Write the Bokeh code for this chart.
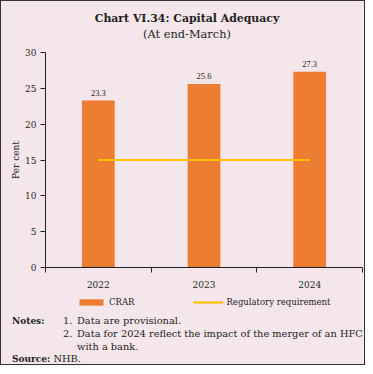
from bokeh.plotting import figure
from bokeh.models import (ColumnDataSource, LabelSet, FixedTicker, Legend,
                          LegendItem, Range1d, Div)
from bokeh.layouts import column
from bokeh.embed import file_html
from bokeh.resources import INLINE

# ---- data ----
years = ["2022", "2023", "2024"]
crar = [23.3, 25.6, 27.3]
regulatory = [15, 15, 15]
y_ticks = [0, 5, 10, 15, 20, 25, 30]
series_names = ["CRAR", "Regulatory requirement"]

title_text = "Chart VI.34: Capital Adequacy"
subtitle_text = "(At end-March)"
y_label = "Per cent"
note_lines = ["Data are provisional.",
              "Data for 2024 reflect the impact of the merger of an HFC",
              "with a bank."]
source_text = "NHB."

# ---- style ----
BG = "#F4E6EB"
BAR = "#ED7D31"
LINE = "#FFC000"
TXT = "#231F20"
FONT = "DejaVu Serif"

W = 363
TITLE_H, FIG_H, LEG_H, NOTES_H = 43, 247, 23, 50

xpos = [i + 0.5 for i in range(len(years))]
src = ColumnDataSource(dict(x=xpos, crar=crar, reg=regulatory,
                            lbl=[f"{v:.1f}" for v in crar]))

p = figure(width=W, height=FIG_H, output_backend="svg", toolbar_location=None,
           x_range=Range1d(0, len(years)), y_range=Range1d(0, 30),
           min_border_left=44, min_border_right=2, min_border_top=8,
           min_border_bottom=24, background_fill_color=BG, border_fill_color=BG,
           outline_line_color=None)

bars = p.vbar(x="x", top="crar", width=0.31, source=src, fill_color=BAR,
              line_color=None)
reg = p.line(x="x", y="reg", source=src, line_color=LINE, line_width=2.2)

p.add_layout(LabelSet(x="x", y="crar", text="lbl", source=src, y_offset=5,
                      text_align="center", text_baseline="bottom",
                      text_font=FONT, text_font_size="8.5px", text_color=TXT))

p.grid.visible = False

xa = p.xaxis[0]
xa.ticker = FixedTicker(ticks=xpos, minor_ticks=list(range(len(years) + 1)))
xa.major_label_overrides = {x: y for x, y in zip(xpos, years)}
xa.major_tick_line_color = None
xa.major_tick_out = 0
xa.major_tick_in = 0
xa.minor_tick_line_color = TXT
xa.minor_tick_out = 5
xa.minor_tick_in = 0
xa.major_label_standoff = 8

ya = p.yaxis[0]
ya.ticker = FixedTicker(ticks=y_ticks)
ya.minor_tick_line_color = None
ya.major_tick_line_color = TXT
ya.major_tick_out = 5
ya.major_tick_in = 0
ya.major_label_standoff = 4
ya.axis_label = y_label
ya.axis_label_text_font = FONT
ya.axis_label_text_font_size = "9px"
ya.axis_label_text_font_style = "normal"
ya.axis_label_text_color = TXT
ya.axis_label_standoff = 1

for ax in (xa, ya):
    ax.axis_line_color = TXT
    ax.major_label_text_font = FONT
    ax.major_label_text_font_size = "9px"
    ax.major_label_text_color = TXT

# ---- legend strip (own small figure; glyphs off-range, only the legend shows) ----
lf = figure(width=W, height=LEG_H, output_backend="svg", toolbar_location=None,
            x_axis_location=None, y_axis_location=None,
            x_range=Range1d(100, 101), y_range=Range1d(100, 101), min_border=0,
            background_fill_color=BG, border_fill_color=BG, outline_line_color=None)
lf.grid.visible = False
lsrc = ColumnDataSource(dict(x=xpos, crar=crar, reg=regulatory))
lbar = lf.vbar(x="x", top="crar", width=0.31, source=lsrc, fill_color=BAR,
               line_color=None)
lline = lf.line(x="x", y="reg", source=lsrc, line_color=LINE, line_width=2.2)
legend = Legend(items=[LegendItem(label=series_names[0], renderers=[lbar]),
                       LegendItem(label=series_names[1], renderers=[lline])],
                location=(31, 7), orientation="horizontal",
                glyph_width=30, glyph_height=8, label_height=8,
                label_standoff=3, padding=0, margin=0, spacing=59,
                border_line_color=None, background_fill_alpha=0,
                label_text_font=FONT, label_text_font_size="8.5px",
                label_text_color=TXT, label_text_baseline="middle")
lf.add_layout(legend, "center")

base = f"font-family:'{FONT}';color:{TXT};"
title_div = Div(
    text=(f"<div style=\"{base}box-sizing:border-box;width:{W}px;text-align:center;"
          f"padding-top:10px;padding-left:9px;\">"
          f"<div style='font-weight:bold;font-size:10.9px;line-height:15px;'>{title_text}</div>"
          f"<div style='font-size:11.4px;line-height:16px;'>{subtitle_text}</div></div>"),
    width=W, height=TITLE_H, margin=(0, 0, 0, 0), styles={"background-color": BG})


def row_html(cells):
    inner = "".join(
        f"<span style='position:absolute;left:{x}px;'>{t}</span>" for x, t in cells)
    return f"<div style='position:relative;height:12.8px;line-height:12.8px;'>{inner}</div>"


bold = "<b style='font-size:9px;'>{}</b>"
rows = [[(11, bold.format("Notes:")), (62, "1."), (76, note_lines[0])],
        [(62, "2."), (76, note_lines[1])],
        [(76, note_lines[2])],
        [(11, bold.format("Source:") + " " + source_text)]]
notes_div = Div(
    text=(f"<div style=\"{base}font-size:9.8px;width:{W}px;white-space:nowrap;"
          f"padding-top:1px;\">"
          + "".join(row_html(r) for r in rows) + "</div>"),
    width=W, height=NOTES_H, margin=(0, 0, 0, 0), styles={"background-color": BG})

layout = column(title_div, p, lf, notes_div, spacing=0,
                styles={"border": "1px solid #333333", "background-color": BG})

open("out.html", "w").write(file_html(layout, INLINE))
